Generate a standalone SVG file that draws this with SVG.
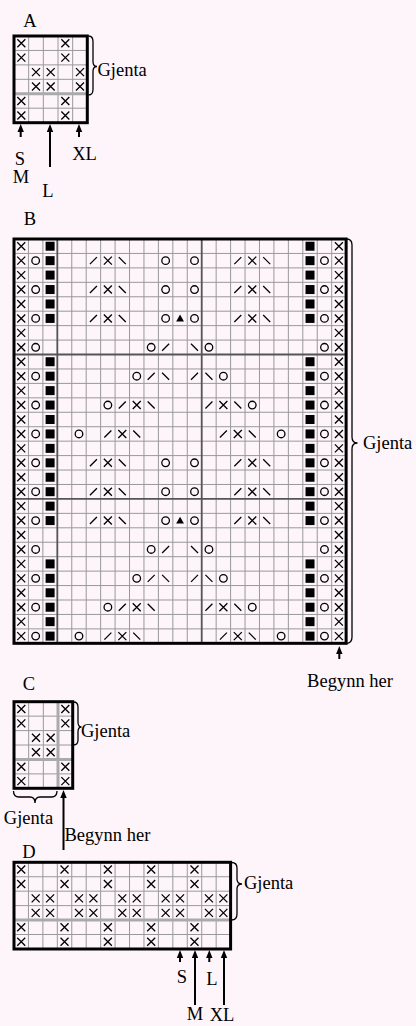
<svg xmlns="http://www.w3.org/2000/svg" xmlns:xlink="http://www.w3.org/1999/xlink" width="416" height="1026" viewBox="0 0 416 1026">
<style>
.bg{fill:#fdf5fa}
.grid{stroke:#999;stroke-width:1;fill:none}
.div{stroke:#555;stroke-width:1.8;fill:none}
.band{stroke:#aaa;stroke-width:3;fill:none}
.border{stroke:#000;stroke-width:3;fill:none}
.sym{stroke:#000;stroke-width:1.3;fill:none}
.brace{stroke:#000;stroke-width:1.3;fill:none}
.arr{stroke:#000;stroke-width:2;fill:none}
.head{fill:#000}
text{font-family:"Liberation Serif","Times New Roman",serif;font-size:18.5px;fill:#000}
.mid{text-anchor:middle}
</style>
<defs>
<path id="x" class="sym" d="M-4,-4L4,4M4,-4L-4,4"/>
<circle id="o" class="sym" r="3.8"/>
<rect id="q" x="-4.5" y="-4.5" width="9" height="9" fill="#000"/>
<path id="sl" class="sym" d="M-3.5,3.5L3.5,-3.5"/>
<path id="bs" class="sym" d="M-3.5,-3.5L3.5,3.5"/>
<polygon id="t" points="0,-3.8 3.9,3 -3.9,3" fill="#000"/>
<g id="r1"><use href="#x" x="21.22"/><use href="#q" x="50.1"/><use href="#q" x="310.02"/><use href="#x" x="338.9"/></g>
<g id="r2"><use href="#x" x="21.22"/><use href="#o" x="35.66"/><use href="#q" x="50.1"/><use href="#sl" x="93.42"/><use href="#x" x="107.86"/><use href="#bs" x="122.3"/><use href="#o" x="165.62"/><use href="#o" x="194.5"/><use href="#sl" x="237.82"/><use href="#x" x="252.26"/><use href="#bs" x="266.7"/><use href="#q" x="310.02"/><use href="#o" x="324.46"/><use href="#x" x="338.9"/></g>
<g id="r6"><use href="#r2"/><use href="#t" x="180.06"/></g>
<g id="r7"><use href="#x" x="21.22"/><use href="#x" x="338.9"/></g>
<g id="r8"><use href="#x" x="21.22"/><use href="#o" x="35.66"/><use href="#o" x="151.18"/><use href="#sl" x="165.62"/><use href="#bs" x="194.5"/><use href="#o" x="208.94"/><use href="#o" x="324.46"/><use href="#x" x="338.9"/></g>
<g id="r10"><use href="#x" x="21.22"/><use href="#o" x="35.66"/><use href="#q" x="50.1"/><use href="#o" x="136.74"/><use href="#sl" x="151.18"/><use href="#bs" x="165.62"/><use href="#sl" x="194.5"/><use href="#bs" x="208.94"/><use href="#o" x="223.38"/><use href="#q" x="310.02"/><use href="#o" x="324.46"/><use href="#x" x="338.9"/></g>
<g id="r12"><use href="#x" x="21.22"/><use href="#o" x="35.66"/><use href="#q" x="50.1"/><use href="#o" x="107.86"/><use href="#sl" x="122.3"/><use href="#x" x="136.74"/><use href="#bs" x="151.18"/><use href="#sl" x="208.94"/><use href="#x" x="223.38"/><use href="#bs" x="237.82"/><use href="#o" x="252.26"/><use href="#q" x="310.02"/><use href="#o" x="324.46"/><use href="#x" x="338.9"/></g>
<g id="r14"><use href="#x" x="21.22"/><use href="#o" x="35.66"/><use href="#q" x="50.1"/><use href="#o" x="78.98"/><use href="#sl" x="107.86"/><use href="#x" x="122.3"/><use href="#bs" x="136.74"/><use href="#sl" x="223.38"/><use href="#x" x="237.82"/><use href="#bs" x="252.26"/><use href="#o" x="281.14"/><use href="#q" x="310.02"/><use href="#o" x="324.46"/><use href="#x" x="338.9"/></g>
</defs>
<rect class="bg" x="0" y="0" width="416" height="1026"/>

<g id="chartA">
<text class="mid" x="30" y="27">A</text>
<path class="grid" d="M28.67,36V122.7M43.33,36V122.7M58,36V122.7M72.67,36V122.7M14,50.44H87.3M14,64.88H87.3M14,79.32H87.3M14,108.2H87.3"/>
<path class="band" d="M14,93.76H87.3"/>
<g>
<use href="#x" x="21.33" y="43.22"/><use href="#x" x="65.33" y="43.22"/>
<use href="#x" x="21.33" y="57.66"/><use href="#x" x="65.33" y="57.66"/>
<use href="#x" x="36" y="72.1"/><use href="#x" x="50.67" y="72.1"/><use href="#x" x="80" y="72.1"/>
<use href="#x" x="36" y="86.54"/><use href="#x" x="50.67" y="86.54"/><use href="#x" x="80" y="86.54"/>
<use href="#x" x="21.33" y="100.98"/><use href="#x" x="65.33" y="100.98"/>
<use href="#x" x="21.33" y="115.42"/><use href="#x" x="65.33" y="115.42"/>
</g>
<rect class="border" x="14" y="36" width="73.3" height="86.7"/>
<path class="brace" d="M88.5,36Q93,36 93,41.5L93,61.5Q93,66.5 97,66.5Q93,66.5 93,71.5L93,89.5Q93,95 88.5,95"/>
<text x="97.5" y="76">Gjenta</text>
<path class="arr" d="M20.7,137V131M50,167V131M79,137V131"/>
<path class="head" d="M20.7,124l3.2,8h-6.4zM50,124l3.2,8h-6.4zM79,124l3.2,8h-6.4z"/>
<text class="mid" x="20" y="165">S</text>
<text class="mid" x="21" y="183">M</text>
<text class="mid" x="48" y="197">L</text>
<text class="mid" x="84.5" y="160">XL</text>
</g>

<g id="chartB">
<text class="mid" x="30" y="225">B</text>
<path class="grid" d="M28.44,239V643.32M42.88,239V643.32M71.76,239V643.32M86.2,239V643.32M100.64,239V643.32M115.08,239V643.32M129.52,239V643.32M143.96,239V643.32M158.4,239V643.32M172.84,239V643.32M187.28,239V643.32M216.16,239V643.32M230.6,239V643.32M245.04,239V643.32M259.48,239V643.32M273.92,239V643.32M288.36,239V643.32M302.8,239V643.32M317.24,239V643.32M331.68,239V643.32
M14,253.44H346.12M14,267.88H346.12M14,282.32H346.12M14,296.76H346.12M14,311.2H346.12M14,325.64H346.12M14,340.08H346.12M14,368.96H346.12M14,383.4H346.12M14,397.84H346.12M14,412.28H346.12M14,426.72H346.12M14,441.16H346.12M14,455.6H346.12M14,470.04H346.12M14,484.48H346.12M14,513.36H346.12M14,527.8H346.12M14,542.24H346.12M14,556.68H346.12M14,571.12H346.12M14,585.56H346.12M14,600H346.12M14,614.44H346.12M14,628.88H346.12"/>
<path class="div" d="M57.32,239V643.32M201.72,239V643.32M14,354.52H346.12M14,498.92H346.12"/>
<g>
<use href="#r1" y="246.22"/>
<use href="#r2" y="260.66"/>
<use href="#r1" y="275.1"/>
<use href="#r2" y="289.54"/>
<use href="#r1" y="303.98"/>
<use href="#r6" y="318.42"/>
<use href="#r7" y="332.86"/>
<use href="#r8" y="347.3"/>
<use href="#r1" y="361.74"/>
<use href="#r10" y="376.18"/>
<use href="#r1" y="390.62"/>
<use href="#r12" y="405.06"/>
<use href="#r1" y="419.5"/>
<use href="#r14" y="433.94"/>
<use href="#r1" y="448.38"/>
<use href="#r2" y="462.82"/>
<use href="#r1" y="477.26"/>
<use href="#r2" y="491.7"/>
<use href="#r1" y="506.14"/>
<use href="#r6" y="520.58"/>
<use href="#r7" y="535.02"/>
<use href="#r8" y="549.46"/>
<use href="#r1" y="563.9"/>
<use href="#r10" y="578.34"/>
<use href="#r1" y="592.78"/>
<use href="#r12" y="607.22"/>
<use href="#r1" y="621.66"/>
<use href="#r14" y="636.1"/>
</g>
<rect class="border" x="14" y="239" width="332.12" height="404.32"/>
<path class="brace" d="M346.5,239Q352,239 352,245L352,437Q352,443 357.5,443Q352,443 352,449L352,637Q352,643.3 346.5,643.3"/>
<text x="363" y="449">Gjenta</text>
<path class="arr" d="M339.3,659V653"/>
<path class="head" d="M339.3,646l3.2,8h-6.4z"/>
<text class="mid" x="350" y="687">Begynn her</text>
</g>

<g id="chartC">
<text class="mid" x="29" y="690">C</text>
<path class="grid" d="M28.67,701.7V788.3M43.33,701.7V788.3M14,716.14H72.7M14,730.58H72.7M14,745.02H72.7M14,773.9H72.7"/>
<path class="band" d="M14,759.46H72.7M58,701.7V788.3"/>
<g>
<use href="#x" x="21.33" y="708.92"/><use href="#x" x="65.33" y="708.92"/>
<use href="#x" x="21.33" y="723.36"/><use href="#x" x="65.33" y="723.36"/>
<use href="#x" x="36" y="737.8"/><use href="#x" x="50.67" y="737.8"/>
<use href="#x" x="36" y="752.24"/><use href="#x" x="50.67" y="752.24"/>
<use href="#x" x="21.33" y="766.68"/><use href="#x" x="65.33" y="766.68"/>
<use href="#x" x="21.33" y="781.12"/><use href="#x" x="65.33" y="781.12"/>
</g>
<rect class="border" x="14" y="701.7" width="58.7" height="86.6"/>
<path class="brace" d="M73.5,702Q78,702 78,707L78,722Q78,727 81.5,727Q78,727 78,732L78,740Q78,745 73.5,745"/>
<text x="81" y="737">Gjenta</text>
<path class="brace" d="M13.5,791Q13.5,797 19,797L30,797Q35,797 35,803Q35,797 40,797L51.5,797Q57,797 57,791"/>
<text class="mid" x="28.5" y="824">Gjenta</text>
<path class="arr" d="M63.5,850V797"/>
<path class="head" d="M63.5,790l3.2,8h-6.4z"/>
<text x="64.5" y="841">Begynn her</text>
</g>

<g id="chartD">
<text class="mid" x="29" y="858">D</text>
<path class="grid" d="M28.44,862.3V949M42.88,862.3V949M57.32,862.3V949M71.76,862.3V949M86.2,862.3V949M100.64,862.3V949M115.08,862.3V949M129.52,862.3V949M143.96,862.3V949M158.4,862.3V949M172.84,862.3V949M187.28,862.3V949M201.72,862.3V949M216.16,862.3V949M14,876.74H230.6M14,891.18H230.6M14,905.62H230.6M14,934.5H230.6"/>
<path class="band" d="M14,920.06H230.6"/>
<g>
<use href="#x" x="21.22" y="869.52"/><use href="#x" x="64.54" y="869.52"/><use href="#x" x="107.86" y="869.52"/><use href="#x" x="151.18" y="869.52"/><use href="#x" x="194.5" y="869.52"/>
<use href="#x" x="21.22" y="883.96"/><use href="#x" x="64.54" y="883.96"/><use href="#x" x="107.86" y="883.96"/><use href="#x" x="151.18" y="883.96"/><use href="#x" x="194.5" y="883.96"/>
<use href="#x" x="35.66" y="898.4"/><use href="#x" x="50.1" y="898.4"/><use href="#x" x="78.98" y="898.4"/><use href="#x" x="93.42" y="898.4"/><use href="#x" x="122.3" y="898.4"/><use href="#x" x="136.74" y="898.4"/><use href="#x" x="165.62" y="898.4"/><use href="#x" x="180.06" y="898.4"/><use href="#x" x="208.94" y="898.4"/><use href="#x" x="223.38" y="898.4"/>
<use href="#x" x="35.66" y="912.84"/><use href="#x" x="50.1" y="912.84"/><use href="#x" x="78.98" y="912.84"/><use href="#x" x="93.42" y="912.84"/><use href="#x" x="122.3" y="912.84"/><use href="#x" x="136.74" y="912.84"/><use href="#x" x="165.62" y="912.84"/><use href="#x" x="180.06" y="912.84"/><use href="#x" x="208.94" y="912.84"/><use href="#x" x="223.38" y="912.84"/>
<use href="#x" x="21.22" y="927.28"/><use href="#x" x="64.54" y="927.28"/><use href="#x" x="107.86" y="927.28"/><use href="#x" x="151.18" y="927.28"/><use href="#x" x="194.5" y="927.28"/>
<use href="#x" x="21.22" y="941.72"/><use href="#x" x="64.54" y="941.72"/><use href="#x" x="107.86" y="941.72"/><use href="#x" x="151.18" y="941.72"/><use href="#x" x="194.5" y="941.72"/>
</g>
<rect class="border" x="14" y="862.3" width="216.6" height="86.7"/>
<path class="brace" d="M231.5,862.5Q237,862.5 237,868L237,879Q237,884 242,884Q237,884 237,889L237,914Q237,920 231.5,920"/>
<text x="244" y="889">Gjenta</text>
<path class="arr" d="M180,962V957M195,1005V957M209.3,962V957M224,1005V957"/>
<path class="head" d="M180,950l3.2,8h-6.4zM195,950l3.2,8h-6.4zM209.3,950l3.2,8h-6.4zM224,950l3.2,8h-6.4z"/>
<text class="mid" x="182" y="983">S</text>
<text class="mid" x="212" y="985">L</text>
<text class="mid" x="195" y="1020">M</text>
<text class="mid" x="222" y="1021">XL</text>
</g>
</svg>
